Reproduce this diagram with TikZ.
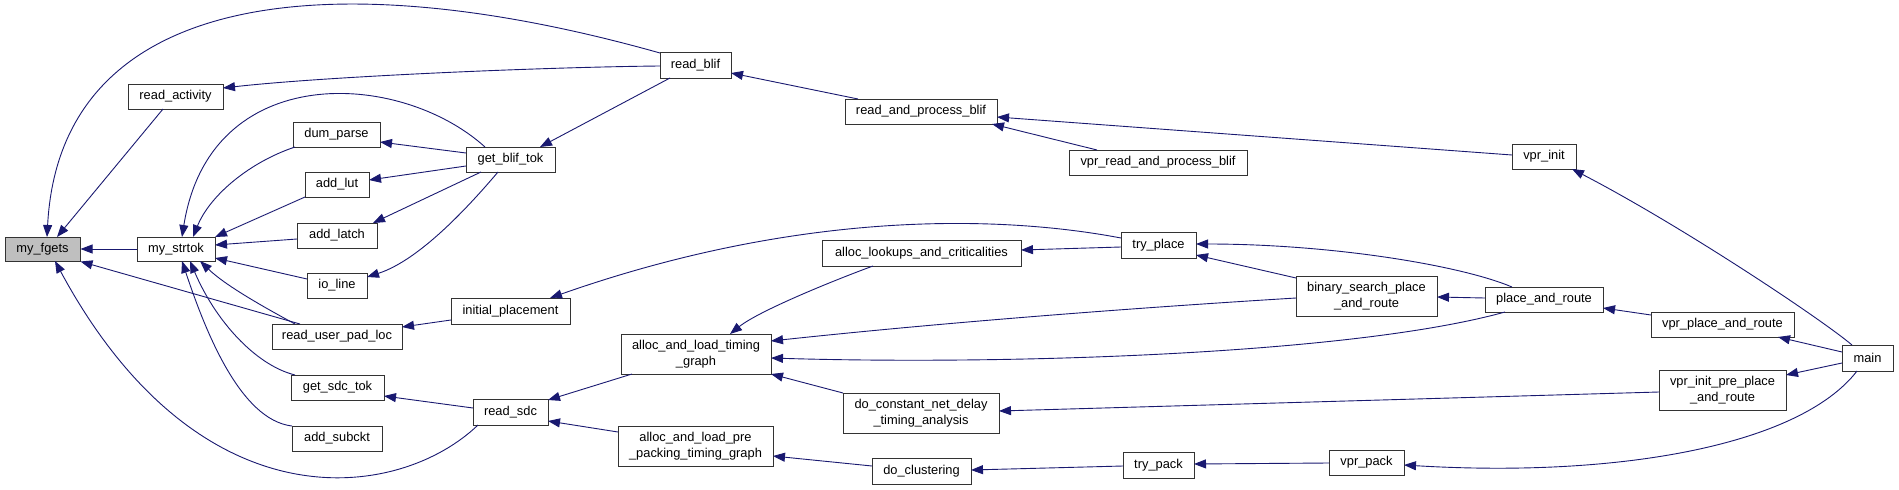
\documentclass[tikz,border=0pt]{standalone}
\usepackage{fontspec}
\setmainfont{Liberation Sans}
\usetikzlibrary{arrows.meta,calc}
\definecolor{edgec}{HTML}{191970}
\tikzset{
  fn/.style={draw=black!80, line width=1pt, fill=white, inner sep=0pt, align=center,
    font=\fontsize{12.85}{15.5}\selectfont},
  cl/.style={draw=edgec, line width=0.9pt, -{Triangle[length=12pt,width=9pt,fill=edgec]}}
}
\begin{document}
\begin{tikzpicture}[x=1pt,y=-1pt]
\useasboundingbox (0,0) rectangle (1899,490);
% nodes
\node[fn, fill=black!25, minimum width=75, minimum height=24] (myfgets) at (42.5,249) {my\_fgets};
\node[fn, minimum width=95, minimum height=25] (readactivity) at (175.5,96.5) {read\_activity};
\node[fn, minimum width=87, minimum height=25] (dumparse) at (336.5,134.5) {dum\_parse};
\node[fn, minimum width=64, minimum height=25] (addlut) at (337,184.5) {add\_lut};
\node[fn, minimum width=80, minimum height=25] (addlatch) at (337,235.5) {add\_latch};
\node[fn, minimum width=78, minimum height=24] (mystrtok) at (176,249) {my\_strtok};
\node[fn, minimum width=60, minimum height=25] (ioline) at (337,285.5) {io\_line};
\node[fn, minimum width=130, minimum height=25] (readuserpadloc) at (337,336.5) {read\_user\_pad\_loc};
\node[fn, minimum width=93, minimum height=25] (getsdctok) at (337.5,387.5) {get\_sdc\_tok};
\node[fn, minimum width=90, minimum height=25] (addsubckt) at (337,438.5) {add\_subckt};
\node[fn, minimum width=89, minimum height=25] (getbliftok) at (510.5,159.5) {get\_blif\_tok};
\node[fn, minimum width=71, minimum height=26] (readblif) at (695.5,65) {read\_blif};
\node[fn, minimum width=152, minimum height=25] (readandprocessblif) at (921,111.5) {read\_and\_process\_blif};
\node[fn, minimum width=178, minimum height=25] (vprreadandprocessblif) at (1158,162.5) {vpr\_read\_and\_process\_blif};
\node[fn, minimum width=64, minimum height=25] (vprinit) at (1544,156.5) {vpr\_init};
\node[fn, minimum width=119, minimum height=26] (initialplacement) at (510.5,311) {initial\_placement};
\node[fn, minimum width=75, minimum height=26] (readsdc) at (510.5,412) {read\_sdc};
\node[fn, minimum width=150, minimum height=40] (allocloadtiming) at (696,354) {alloc\_and\_load\_timing\\\_graph};
\node[fn, minimum width=155, minimum height=40] (allocprepacking) at (695.5,446) {alloc\_and\_load\_pre\\\_packing\_timing\_graph};
\node[fn, minimum width=199, minimum height=26] (alloclookups) at (921.5,253) {alloc\_lookups\_and\_criticalities};
\node[fn, minimum width=156, minimum height=40] (doconstant) at (921,413) {do\_constant\_net\_delay\\\_timing\_analysis};
\node[fn, minimum width=99, minimum height=26] (doclustering) at (921.5,471) {do\_clustering};
\node[fn, minimum width=75, minimum height=26] (tryplace) at (1158.5,245) {try\_place};
\node[fn, minimum width=141, minimum height=40] (binarysearch) at (1366.5,296) {binary\_search\_place\\\_and\_route};
\node[fn, minimum width=71, minimum height=26] (trypack) at (1158.5,465) {try\_pack};
\node[fn, minimum width=75, minimum height=25] (vprpack) at (1366.5,462.5) {vpr\_pack};
\node[fn, minimum width=118, minimum height=25] (placeandroute) at (1544,299.5) {place\_and\_route};
\node[fn, minimum width=143, minimum height=25] (vprplaceandroute) at (1722.5,324.5) {vpr\_place\_and\_route};
\node[fn, minimum width=127, minimum height=40] (vprinitpre) at (1722.5,390) {vpr\_init\_pre\_place\\\_and\_route};
\node[fn, minimum width=51, minimum height=26] (main) at (1867.5,358) {main};
% edges (caller -> callee, arrow at callee)
\draw[cl] ($(readblif)+(-35.5,-12)$) .. controls (330,-40) and (60,-10) .. ($(myfgets)+(4.5,-12)$);
\draw[cl] ($(readblif)+(-35.5,1)$) .. controls (550,67) and (330,76) .. ($(readactivity)+(47.5,-8.5)$);
\draw[cl] (mystrtok.west) -- (myfgets.east);
\draw[cl] ($(readactivity)+(-12.5,12.5)$) -- ($(myfgets)+(14.5,-12)$);
\draw[cl] ($(readuserpadloc)+(-37,-12.5)$) -- (myfgets.south east);
\draw[cl] ($(readsdc)+(-32.5,13)$) .. controls (400,500) and (200,530) .. ($(myfgets)+(12.5,12)$);
\draw[cl] ($(dumparse)+(-41.5,12.5)$) .. controls (250,162) and (210,195) .. ($(mystrtok)+(17,-12)$);
\draw[cl] ($(addlut)+(-32,12.5)$) -- ($(mystrtok)+(39,-12)$);
\draw[cl] ($(addlatch)+(-40,3.5)$) -- ($(mystrtok)+(39,-4)$);
\draw[cl] ($(getbliftok)+(-25.5,-12.5)$) .. controls (400,70) and (210,60) .. ($(mystrtok)+(6,-12)$);
\draw[cl] ($(ioline)+(-30,-6.5)$) -- ($(mystrtok)+(39,9)$);
\draw[cl] ($(readuserpadloc)+(-42,-12.5)$) .. controls (260,305) and (225,285) .. ($(mystrtok)+(24,12)$);
\draw[cl] ($(getsdctok)+(-42.5,-12.5)$) .. controls (255,365) and (215,320) .. ($(mystrtok)+(14,12)$);
\draw[cl] ($(addsubckt)+(-45,-12.5)$) .. controls (240,420) and (205,330) .. ($(mystrtok)+(6,12)$);
\draw[cl] ($(getbliftok)+(-44.5,-6.5)$) -- ($(dumparse)+(43.5,7.5)$);
\draw[cl] ($(getbliftok)+(-44.5,6.5)$) -- ($(addlut)+(32,-4.5)$);
\draw[cl] ($(getbliftok)+(-29.5,12.5)$) -- ($(addlatch)+(36,-12.5)$);
\draw[cl] ($(getbliftok)+(-12.5,12.5)$) .. controls (470,205) and (420,260) .. ($(ioline)+(30,-8.5)$);
\draw[cl] ($(readblif)+(-25.5,13)$) -- ($(getbliftok)+(29.5,-12.5)$);
\draw[cl] ($(readandprocessblif)+(-63,-12.5)$) -- ($(readblif)+(35.5,8)$);
\draw[cl] ($(vprreadandprocessblif)+(-61,-12.5)$) -- ($(readandprocessblif)+(71,12.5)$);
\draw[cl] ($(vprinit)+(-32,-1.5)$) -- ($(readandprocessblif)+(76,5.5)$);
\draw[cl] ($(main)+(-15.5,-13)$) .. controls (1820,318) and (1680,225) .. ($(vprinit)+(28,12.5)$);
\draw[cl] ($(initialplacement)+(-59.5,9)$) -- ($(readuserpadloc)+(65,-9.5)$);
\draw[cl] ($(tryplace)+(-37.5,-7)$) .. controls (1000,215) and (800,210) .. ($(initialplacement)+(39.5,-13)$);
\draw[cl] ($(readsdc)+(-37.5,-4)$) -- ($(getsdctok)+(46.5,8.5)$);
\draw[cl] ($(allocloadtiming)+(-64,20)$) -- ($(readsdc)+(37.5,-12)$);
\draw[cl] ($(allocprepacking)+(-77.5,-14)$) -- ($(readsdc)+(37.5,9)$);
\draw[cl] ($(alloclookups)+(-48.5,13)$) .. controls (840,278) and (760,310) .. ($(allocloadtiming)+(34,-20)$);
\draw[cl] ($(binarysearch)+(-70.5,2)$) .. controls (1100,310) and (920,325) .. ($(allocloadtiming)+(75,-13)$);
\draw[cl] ($(placeandroute)+(-39,12.5)$) .. controls (1350,355) and (1000,365) .. ($(allocloadtiming)+(75,4)$);
\draw[cl] ($(doconstant)+(-78,-20)$) -- ($(allocloadtiming)+(75,20)$);
\draw[cl] ($(tryplace)+(-37.5,2)$) -- ($(alloclookups)+(99.5,-3)$);
\draw[cl] ($(binarysearch)+(-70.5,-18)$) -- ($(tryplace)+(37.5,10)$);
\draw[cl] ($(placeandroute)+(-32,-12.5)$) .. controls (1460,265) and (1330,244) .. ($(tryplace)+(37.5,-1)$);
\draw[cl] ($(placeandroute)+(-59,-1.5)$) -- ($(binarysearch)+(70.5,1)$);
\draw[cl] ($(vprplaceandroute)+(-71.5,-9.5)$) -- ($(placeandroute)+(59,8.5)$);
\draw[cl] ($(main)+(-25.5,-6)$) -- ($(vprplaceandroute)+(55.5,12.5)$);
\draw[cl] ($(vprinitpre)+(-63.5,2)$) -- ($(doconstant)+(78,-2)$);
\draw[cl] ($(main)+(-25.5,5)$) -- ($(vprinitpre)+(63.5,-15)$);
\draw[cl] ($(doclustering)+(-49.5,-5)$) -- ($(allocprepacking)+(77.5,10)$);
\draw[cl] ($(trypack)+(-35.5,1)$) -- ($(doclustering)+(49.5,-1)$);
\draw[cl] ($(vprpack)+(-37.5,0.5)$) -- ($(trypack)+(35.5,-1)$);
\draw[cl] ($(main)+(-10.5,13)$) .. controls (1800,445) and (1620,478) .. ($(vprpack)+(37.5,2.5)$);
\end{tikzpicture}
\end{document}
